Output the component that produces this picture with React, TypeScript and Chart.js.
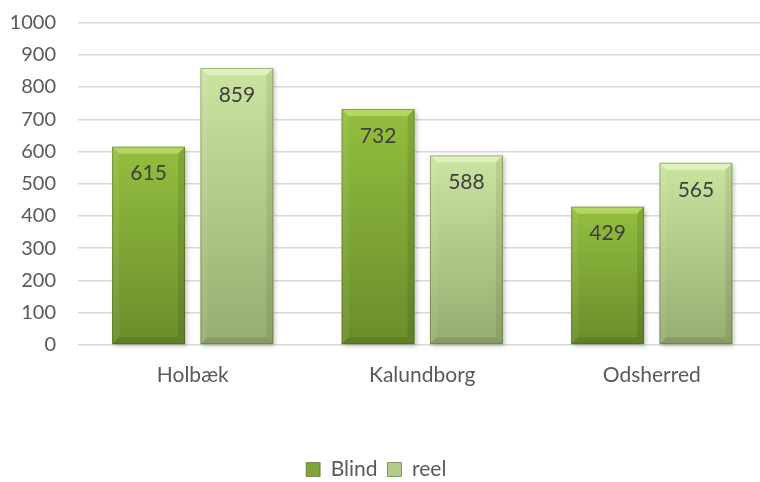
import React, { useEffect, useRef } from "react";
import { Chart, registerables } from "chart.js";

Chart.register(...registerables);

const categories = ["Holbæk", "Kalundborg", "Odsherred"];
const blindValues = [615, 732, 429];
const reelValues = [859, 588, 565];
const seriesNames = ["Blind", "reel"];
const yMin = 0;
const yMax = 1000;
const yStep = 100;

const FONT = "Lato, 'Open Sans', sans-serif";

const palettes = [
  { top: "#93bf3e", bottom: "#6a8d2b", bevel: "rgba(205,235,125,0.55)", right: "rgba(0,0,0,0.10)", legend: "#7ea536" },
  { top: "#cbe4a0", bottom: "#95ad6f", bevel: "rgba(240,250,210,0.6)", right: "rgba(0,0,0,0.08)", legend: "#b3cd85" },
];

const makeBg = (pi: number) => (ctx: any) => {
  const pal = palettes[pi];
  const chart = ctx.chart;
  const ys = chart.scales && chart.scales.y;
  if (!ys || !chart.chartArea || ctx.type !== "data" || typeof ctx.raw !== "number") return pal.legend;
  const top = ys.getPixelForValue(ctx.raw);
  const base = ys.getPixelForValue(0);
  if (!isFinite(top) || !isFinite(base) || top === base) return pal.legend;
  const g = chart.ctx.createLinearGradient(0, top, 0, base);
  g.addColorStop(0, pal.top);
  g.addColorStop(1, pal.bottom);
  return g;
};

const bevelPlugin = {
  id: "bevelPlugin",
  afterLayout(chart: any) {
    if (chart.legend) {
      chart.legend.left -= 7;
      chart.legend.right -= 7;
    }
  },
  beforeDatasetsDraw(chart: any) {
    const c = chart.ctx;
    chart.data.datasets.forEach((_ds: any, di: number) => {
      const meta = chart.getDatasetMeta(di);
      meta.data.forEach((bar: any) => {
        const { x, y, base, width } = bar.getProps(["x", "y", "base", "width"], true);
        c.save();
        c.shadowColor = "rgba(0,0,0,0.28)";
        c.shadowBlur = 5;
        c.shadowOffsetX = 2;
        c.shadowOffsetY = 2;
        c.fillStyle = "#ffffff";
        c.fillRect(x - width / 2, y, width, base - y);
        c.restore();
      });
    });
  },
  afterDatasetsDraw(chart: any) {
    const c = chart.ctx;
    chart.data.datasets.forEach((ds: any, di: number) => {
      const pal = palettes[di];
      const meta = chart.getDatasetMeta(di);
      meta.data.forEach((bar: any, i: number) => {
        const { x, y, base, width } = bar.getProps(["x", "y", "base", "width"], true);
        const l = x - width / 2;
        const r = x + width / 2;
        const b = 7;
        c.save();
        c.beginPath();
        c.moveTo(l, y);
        c.lineTo(r, y);
        c.lineTo(r - b, y + b);
        c.lineTo(l + b, y + b);
        c.closePath();
        c.fillStyle = pal.bevel;
        c.fill();
        c.beginPath();
        c.moveTo(l, y);
        c.lineTo(l + b, y + b);
        c.lineTo(l + b, base - b);
        c.lineTo(l, base);
        c.closePath();
        c.fillStyle = "rgba(255,255,255,0.07)";
        c.fill();
        c.beginPath();
        c.moveTo(r, y);
        c.lineTo(r - b, y + b);
        c.lineTo(r - b, base - b);
        c.lineTo(r, base);
        c.closePath();
        c.fillStyle = pal.right;
        c.fill();
        c.beginPath();
        c.moveTo(l, base);
        c.lineTo(l + b, base - b);
        c.lineTo(r - b, base - b);
        c.lineTo(r, base);
        c.closePath();
        c.fillStyle = "rgba(0,0,0,0.10)";
        c.fill();
        c.strokeStyle = "rgba(50,70,20,0.35)";
        c.lineWidth = 1;
        c.strokeRect(l + 0.5, y + 0.5, width - 1, base - y - 1);
        c.font = `21px ${FONT}`;
        c.fillStyle = "#404040";
        c.textAlign = "center";
        c.textBaseline = "middle";
        c.fillText(String(ds.data[i]), x, y + 27);
        c.restore();
      });
    });
  },
};

export default function App() {
  const ref = useRef<HTMLCanvasElement | null>(null);
  useEffect(() => {
    if (!ref.current) return;
    const chart = new Chart(ref.current, {
      type: "bar",
      data: {
        labels: categories,
        datasets: [
          { label: seriesNames[0], data: blindValues, backgroundColor: makeBg(0), borderWidth: 0 },
          { label: seriesNames[1], data: reelValues, backgroundColor: makeBg(1), borderWidth: 0 },
        ],
      },
      options: {
        responsive: false,
        animation: false,
        devicePixelRatio: 1,
        layout: { padding: { left: 0, right: 3.5, top: 22.5, bottom: 0 } },
        datasets: { bar: { categoryPercentage: 0.77, barPercentage: 0.826 } },
        scales: {
          x: {
            grid: { display: false },
            border: { display: false },
            ticks: { color: "#595959", font: { family: FONT, size: 21 }, padding: 10 },
            afterFit: (s: any) => {
              s.height = 104;
            },
          },
          y: {
            min: yMin,
            max: yMax,
            grid: { color: "#d9d9d9", lineWidth: 1.5, drawTicks: false },
            border: { display: false },
            ticks: {
              stepSize: yStep,
              color: "#595959",
              font: { family: FONT, size: 20 },
              padding: 22,
              callback: (v: any) => String(v),
            },
            afterFit: (s: any) => {
              s.width = 78;
              s.paddingTop = 0;
              s.paddingBottom = 0;
            },
          },
        },
        plugins: {
          tooltip: { enabled: false },
          legend: {
            position: "bottom",
            labels: {
              color: "#595959",
              font: { family: FONT, size: 21 },
              boxWidth: 14,
              boxHeight: 14,
              padding: 10,
              generateLabels: (ch: any) => {
                const items = Chart.defaults.plugins.legend.labels.generateLabels(ch);
                return items.map((it: any, idx: number) => ({
                  ...it,
                  fillStyle: palettes[idx].legend,
                  strokeStyle: "rgba(50,70,20,0.5)",
                  lineWidth: 1,
                }));
              },
            },
          },
        },
      },
      plugins: [bevelPlugin],
    } as any);
    return () => chart.destroy();
  }, []);
  return (
    <div style={{ position: "fixed", left: 0, top: 0, width: 760, height: 482, overflow: "hidden", background: "#fff" }}>
      <canvas ref={ref} width={770} height={490} style={{ width: 770, height: 490, display: "block" }} />
    </div>
  );
}
